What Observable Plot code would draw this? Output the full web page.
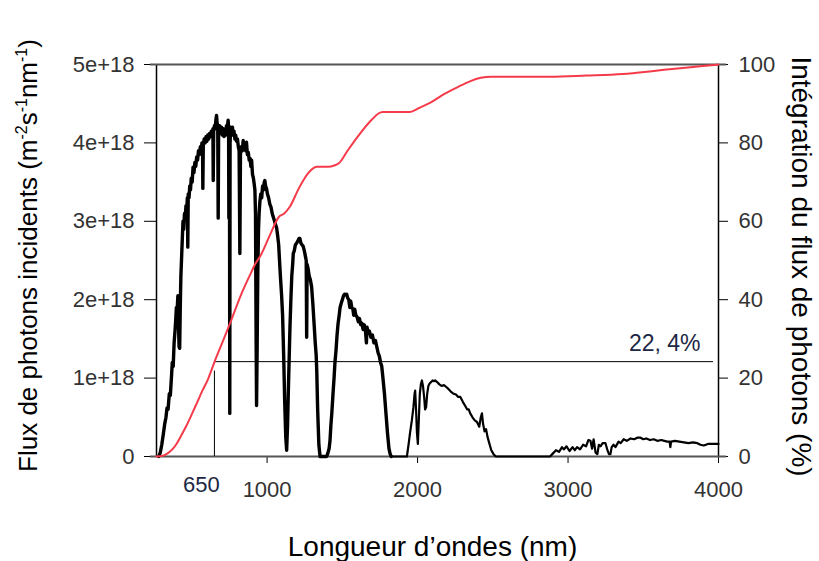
<!DOCTYPE html>
<html><head><meta charset="utf-8">
<script src="https://cdn.jsdelivr.net/npm/d3@7"></script>
<script src="https://cdn.jsdelivr.net/npm/@observablehq/plot@0.6"></script>
<style>html,body{margin:0;padding:0;background:#fff;overflow:hidden}</style>
</head><body><div id="chart"></div>
<script>
// Spectrum: wavelength (nm) and incident photon flux (units of 1e18 m-2 s-1 nm-1)
const wavelengths = [280,290,300,310,320,328,335,342,350,357,364,370,376,382,388,393,397,402,407,411,415,419,423,427,431,436,441,446,451,456,461,466,470,473,476,481,486,491,496,502,508,514,520,526,532,538,544,550,556,562,567,571,573,576,582,588,594,600,606,612,618,624,630,636,640,642,645,650,655,660,664,668,672,675,678,684,690,697,703,709,714,719,725,730,735,741,744,746,748,750,752,754,758,764,770,774,780,786,791,797,803,809,814,819,823,828,835,841,847,853,858,863,869,875,881,887,892,897,903,909,914,919,923,927,930,934,938,943,947,952,958,964,970,976,981,985,990,996,1002,1010,1018,1026,1034,1042,1050,1057,1063,1070,1077,1084,1090,1096,1103,1110,1117,1124,1130,1136,1142,1148,1152,1158,1164,1170,1174,1180,1188,1196,1204,1212,1218,1225,1232,1240,1248,1255,1260,1263,1266,1272,1280,1288,1296,1304,1312,1320,1326,1330,1336,1344,1352,1396,1405,1412,1418,1424,1430,1438,1445,1451,1458,1465,1472,1479,1485,1492,1500,1508,1515,1522,1529,1536,1543,1550,1556,1563,1570,1576,1582,1590,1598,1606,1614,1622,1630,1638,1646,1654,1660,1664,1672,1680,1690,1700,1710,1720,1729,1738,1746,1754,1762,1770,1780,1790,1800,1810,1818,1825,
1929,1940,1950,1962,1972,1980,1984,1990,1996,2002,2008,2015,2022,2029,2036,2044,2050,2057,2064,2072,2080,2090,2100,2110,2117,2130,2145,2160,2175,2195,2210,2225,2240,2255,2270,2284,2300,2315,2330,2340,2350,2365,2380,2395,2410,2420,2428,2435,2445,2455,2465,2475,2490,2505,2520,
2880,2900,2920,2940,2960,2972,2990,3010,3030,3045,3060,3080,3100,3120,3135,3149,3160,3170,3183,3195,3205,3216,3230,3249,3262,3272,3282,3290,3302,3315,3336,3350,3370,3390,3415,3440,3460,3482,3500,3520,3545,3570,3593,3620,3640,3660,3675,3680,3685,3710,3740,3770,3800,3830,3860,3880,3902,3930,3960,3981,4000];
const flux = [0,0.05,0.15,0.28,0.42,0.5,0.62,0.6,0.8,0.78,1.0,1.2,1.15,1.45,1.6,1.75,1.9,1.85,2.05,1.7,1.4,1.38,1.9,2.3,2.5,2.75,3.0,2.9,3.1,3.05,3.2,3.15,3.3,2.67,3.35,3.3,3.45,3.4,3.55,3.5,3.69,3.62,3.75,3.7,3.82,3.78,3.9,3.85,3.95,3.9,4.0,3.95,3.42,3.98,4.05,4.0,4.08,4.02,4.1,4.05,4.12,4.08,4.15,4.1,4.18,3.52,4.15,4.22,4.18,4.3,4.35,4.25,4.2,3.04,4.15,4.22,4.12,4.2,4.1,4.18,4.08,4.16,4.1,4.22,4.18,4.29,4.2,3.04,4.15,4.1,0.55,4.0,4.2,4.12,4.2,4.1,4.15,4.05,4.1,4.02,4.05,3.95,3.9,2.59,3.85,3.95,3.9,4.03,3.95,4.0,3.9,4.01,3.85,3.88,3.78,3.8,3.7,3.78,3.6,3.55,3.48,3.4,3.1,1.5,0.65,1.4,2.3,2.9,3.1,3.25,3.35,3.3,3.45,3.4,3.5,3.52,3.45,3.42,3.35,3.3,3.22,3.18,3.1,3.05,3.0,2.95,2.92,2.82,2.7,2.45,2.25,2.07,1.8,1.3,0.7,0.25,0.08,0.4,0.9,1.35,1.65,2.0,2.3,2.45,2.59,2.62,2.7,2.72,2.75,2.78,2.78,2.72,2.7,2.68,2.62,2.55,2.5,1.52,2.45,2.4,2.3,2.25,2.16,1.95,1.7,1.45,1.3,1.1,0.6,0.15,0,0,0.05,0.1,0.2,0.4,0.55,0.8,1.0,1.2,1.35,1.55,1.7,1.8,1.9,1.95,2.0,2.05,2.07,2.06,2.07,2.02,2.0,1.9,1.98,1.9,1.88,1.8,1.88,1.8,1.78,1.72,1.76,1.68,1.7,1.62,1.68,1.6,1.45,1.65,1.58,1.6,1.52,1.55,1.45,1.48,1.4,1.32,1.28,1.2,1.15,1.0,0.8,0.55,0.3,0.1,0.03,0,
0,0.15,0.3,0.46,0.62,0.8,0.84,0.6,0.3,0.16,0.45,0.8,0.92,0.97,0.9,0.75,0.6,0.63,0.8,0.9,0.93,0.95,0.97,0.96,0.97,0.95,0.92,0.9,0.91,0.88,0.85,0.82,0.8,0.79,0.76,0.76,0.7,0.65,0.6,0.6,0.55,0.5,0.46,0.44,0.38,0.5,0.55,0.42,0.32,0.35,0.25,0.18,0.08,0.03,0,
0,0.04,0.08,0.06,0.12,0.09,0.13,0.07,0.12,0.08,0.12,0.09,0.15,0.13,0.21,0.2,0.1,0.22,0.05,0.03,0.15,0.13,0.17,0.17,0.08,0.03,0.03,0.12,0.15,0.12,0.19,0.17,0.22,0.2,0.23,0.22,0.24,0.24,0.22,0.23,0.21,0.22,0.2,0.21,0.2,0.19,0.19,0.12,0.19,0.2,0.19,0.18,0.17,0.18,0.17,0.15,0.14,0.16,0.16,0.16,0.16];

// Cumulative integration of photon flux (%)
const cumWavelengths = [265,300,341,370,401,430,462,500,534,570,607,650,703,764,824,885,921,957,1018,1078,1114,1151,1211,1272,1310,1332,1405,1450,1477,1538,1610,1695,1740,1767,1840,1949,2009,2082,2178,2275,2348,2420,2493,2638,2880,3121,3363,3557,3726,3895,4000];
const cumPercent = [0,0.1,0.85,1.8,3.4,5.4,7.7,10.8,13.7,16.8,19.7,24.1,29.1,35,41,46.2,49.1,51.3,56.4,61.1,62,63.7,68.4,72.2,73.6,73.9,73.9,74.3,74.8,78.2,82,85.9,87.5,87.9,87.9,87.9,88.9,90.2,92.5,94.4,95.7,96.6,96.9,96.9,96.9,97.2,97.6,98.3,99,99.6,100];

const leftTicks = [0,1,2,3,4,5];
const rightTicks = [0,20,40,60,80,100];
const xTicks = [1000,2000,3000,4000];
const xDomain = [265, 4000];
const markerWavelength = 650;
const markerPercent = 24.2;
const markerTopFlux = 1.09;
const markerLabel = "22, 4%";
const markerTickLabel = "650";
const xTitle = "Longueur d’ondes (nm)";
const yTitleParts = [["Flux de photons incidents (m", false], ["-2", true], ["s", false], ["-1", true], ["nm", false], ["-1", true], [")", false]];
const y2Title = "Intégration du flux de photons (%)";

const pctToY = p => p / 20;
const spectrum = wavelengths.map((w, i) => ({w, f: flux[i]}));
const cumul = cumWavelengths.map((w, i) => ({w, p: cumPercent[i]}));
const yTitle = yTitleParts.map(d => d[0]).join("");

const chart = Plot.plot({
  width: 819, height: 561,
  marginLeft: 156, marginRight: 101, marginTop: 64, marginBottom: 105,
  x: {domain: xDomain},
  y: {domain: [0, 5]},
  style: {fontFamily: "'Liberation Sans', Arial, sans-serif", fontSize: "22px", color: "#333", background: "#fff"},
  marks: [
    Plot.axisY({anchor: "left", ticks: leftTicks, tickFormat: d => d === 0 ? "0" : `${d}e+18`, tickSize: 12, tickPadding: 10, label: null, stroke: "#000", fill: "#333", fontSize: 22}),
    Plot.axisY({anchor: "right", ticks: rightTicks.map(pctToY), tickFormat: d => String(Math.round(d * 20)), tickSize: 9, tickPadding: 11, label: null, stroke: "#000", fill: "#333", fontSize: 22}),
    Plot.axisX({ticks: xTicks, tickFormat: d => String(d), tickSize: 7, tickPadding: 18, label: null, stroke: "#000", fill: "#333", fontSize: 22}),
    Plot.ruleX(xDomain, {stroke: "#000", strokeWidth: 1.5}),
    Plot.ruleY([0, 5], {stroke: "#555", strokeWidth: 2, insetLeft: -6, insetRight: -8}),
    Plot.line(spectrum, {filter: d => d.w <= 1830, x: "w", y: "f", stroke: "#000", strokeWidth: 3.4, strokeLinejoin: "round"}),
    Plot.line(spectrum, {filter: d => d.w >= 1825, x: "w", y: "f", stroke: "#000", strokeWidth: 2.2, strokeLinejoin: "round"}),
    Plot.ruleX([markerWavelength], {y1: 0, y2: markerTopFlux, stroke: "#000", strokeWidth: 1}),
    Plot.ruleY([pctToY(markerPercent)], {x1: markerWavelength, x2: xDomain[1], insetRight: 5, stroke: "#000", strokeWidth: 1}),
    Plot.line(cumul, {x: "w", y: d => pctToY(d.p), stroke: "#f53b4a", strokeWidth: 2, curve: "monotone-x"}),
    Plot.text([markerLabel], {frameAnchor: "right", y: pctToY(markerPercent), dx: -18, dy: -11, textAnchor: "end", lineAnchor: "bottom", fill: "#1c2744", fontSize: 23}),
    Plot.text([markerTickLabel], {x: markerWavelength, frameAnchor: "bottom", dx: -13, dy: 35, fill: "#1c2744", fontSize: 22}),
    Plot.text([xTitle], {frameAnchor: "bottom", textAnchor: "middle", dx: -5, dy: 99, lineAnchor: "bottom", fill: "#000", fontSize: 28}),
    Plot.text([yTitle], {frameAnchor: "left", textAnchor: "middle", dx: -128, dy: -5, rotate: -90, fill: "#000", fontSize: 26}),
    Plot.text([y2Title], {frameAnchor: "right", textAnchor: "middle", dx: 82, dy: 6, rotate: 90, fill: "#000", fontSize: 28})
  ]
});

// superscripts in the left title
const t = Array.from(chart.querySelectorAll("text")).find(e => e.textContent === yTitle);
if (t) {
  t.textContent = "";
  let shifted = false;
  for (const [s, sup] of yTitleParts) {
    const ts = document.createElementNS("http://www.w3.org/2000/svg", "tspan");
    ts.textContent = s;
    if (sup) { ts.setAttribute("font-size", "16"); ts.setAttribute("dy", "-10"); shifted = true; }
    else if (shifted) { ts.setAttribute("dy", "10"); shifted = false; }
    t.appendChild(ts);
  }
}
document.getElementById("chart").appendChild(chart);
</script>
</body></html>
